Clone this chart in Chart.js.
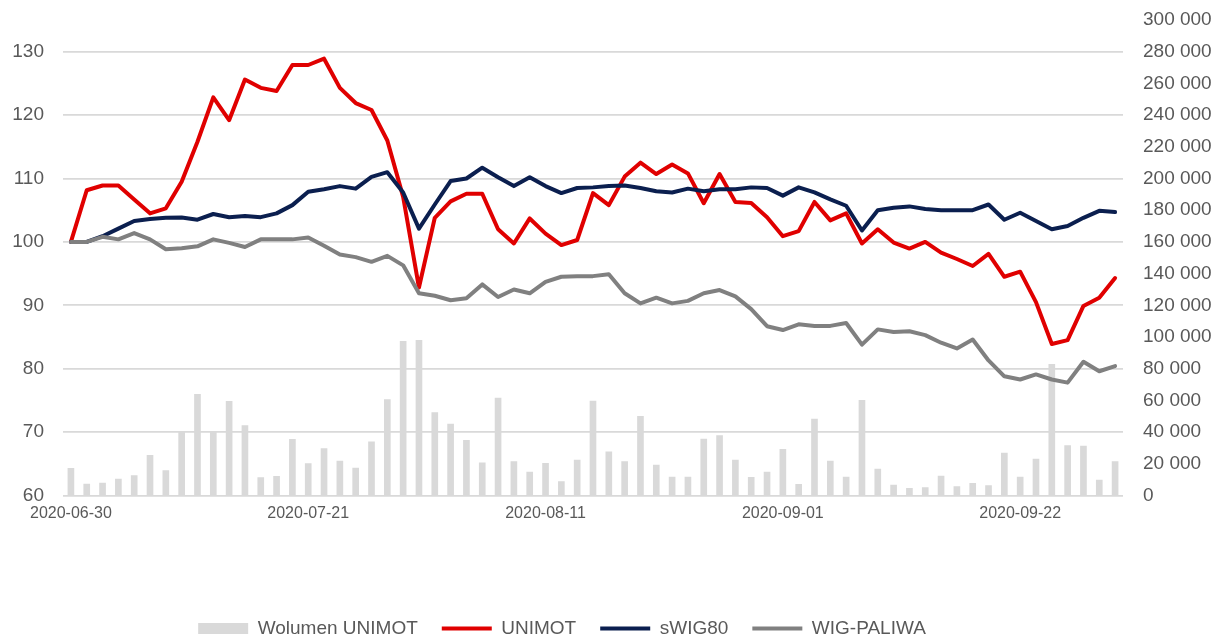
<!DOCTYPE html>
<html>
<head>
<meta charset="utf-8">
<script src="https://cdn.jsdelivr.net/npm/chart.js@4.4.1/dist/chart.umd.min.js"></script>
<style>
  html, body { margin: 0; padding: 0; background: #ffffff; overflow: hidden; }
  #wrap { position: relative; width: 1220px; height: 638px; }
</style>
</head>
<body>
<div id="wrap"><canvas id="c"></canvas></div>
<script>
const dates = [
  '2020-06-30',
  '2020-07-01','2020-07-02','2020-07-03','2020-07-06','2020-07-07','2020-07-08','2020-07-09','2020-07-10',
  '2020-07-13','2020-07-14','2020-07-15','2020-07-16','2020-07-17','2020-07-20','2020-07-21','2020-07-22',
  '2020-07-23','2020-07-24','2020-07-27','2020-07-28','2020-07-29','2020-07-30','2020-07-31',
  '2020-08-03','2020-08-04','2020-08-05','2020-08-06','2020-08-07','2020-08-10','2020-08-11','2020-08-12',
  '2020-08-13','2020-08-14','2020-08-17','2020-08-18','2020-08-19','2020-08-20','2020-08-21','2020-08-24',
  '2020-08-25','2020-08-26','2020-08-27','2020-08-28','2020-08-31',
  '2020-09-01','2020-09-02','2020-09-03','2020-09-04','2020-09-07','2020-09-08','2020-09-09','2020-09-10',
  '2020-09-11','2020-09-14','2020-09-15','2020-09-16','2020-09-17','2020-09-18','2020-09-21','2020-09-22',
  '2020-09-23','2020-09-24','2020-09-25','2020-09-28','2020-09-29','2020-09-30'
];
const shownDates = ['2020-06-30','2020-07-21','2020-08-11','2020-09-01','2020-09-22'];

const volumeUnimot = [
  17160, 7255, 7886, 10410, 12490, 25360, 15650, 40500, 63850, 40500,
  59430, 44040, 11230, 12110, 35450, 20060, 29530, 21770, 17350, 33940,
  60440, 97280, 97910, 52240, 45110, 34820, 20690, 61510, 21330, 14830,
  20310, 8710, 22400, 59620, 27630, 21330, 49960, 19240, 11670, 11670,
  35650, 37730, 22400, 11480, 14830, 29150, 7070, 48260, 21770, 11670,
  60060, 16720, 6620, 4540, 4920, 12300, 5550, 7700, 6180, 26810,
  11670, 23030, 82770, 31420, 31230, 9780, 21330
];
const unimot = [
  100, 108.15, 108.9, 108.9, 106.7, 104.5, 105.3, 109.5, 115.8, 122.8,
  119.2, 125.6, 124.3, 123.8, 127.9, 127.9, 128.9, 124.3, 121.9, 120.8,
  116.0, 107.1, 92.8, 103.8, 106.4, 107.6, 107.6, 102.0, 99.75, 103.7,
  101.3, 99.5, 100.3, 107.7, 105.8, 110.3, 112.5, 110.7, 112.2, 110.8,
  106.1, 110.7, 106.3, 106.15, 103.9, 100.9, 101.7, 106.3, 103.4, 104.5,
  99.75, 102.0, 99.9, 98.95, 100.0, 98.3, 97.3, 96.2, 98.1, 94.5,
  95.3, 90.5, 83.9, 84.5, 89.9, 91.2, 94.3
];
const swig80 = [
  100, 100, 100.9, 102.1, 103.3, 103.6, 103.8, 103.85, 103.5, 104.4,
  103.9, 104.1, 103.9, 104.5, 105.8, 107.9, 108.3, 108.8, 108.4, 110.25,
  111.0, 107.8, 102.1, 105.9, 109.6, 110.0, 111.7, 110.2, 108.8, 110.2,
  108.8, 107.7, 108.5, 108.6, 108.8, 108.9, 108.5, 108.0, 107.8, 108.4,
  108.0, 108.3, 108.3, 108.6, 108.5, 107.3, 108.6, 107.8, 106.7, 105.7,
  101.8, 105.0, 105.4, 105.6, 105.2, 105.0, 105.0, 105.0, 105.9, 103.5,
  104.6, 103.3, 102.0, 102.5, 103.8, 104.9, 104.7
];
const wigPaliwa = [
  100, 100, 100.8, 100.4, 101.4, 100.4, 98.85, 99.0, 99.3, 100.4,
  99.85, 99.2, 100.4, 100.4, 100.4, 100.7, 99.4, 98.0, 97.6, 96.85,
  97.8, 96.3, 91.9, 91.5, 90.8, 91.1, 93.3, 91.3, 92.5, 91.9,
  93.7, 94.5, 94.6, 94.6, 94.9, 91.9, 90.3, 91.2, 90.3, 90.7,
  91.9, 92.4, 91.4, 89.4, 86.7, 86.1, 87.0, 86.75, 86.75, 87.2,
  83.8, 86.2, 85.8, 85.9, 85.3, 84.1, 83.2, 84.6, 81.3, 78.8,
  78.3, 79.1, 78.3, 77.8, 81.1, 79.6, 80.4
];
const leftTicks = [60, 70, 80, 90, 100, 110, 120, 130];

const FONT = "'Liberation Sans', Arial, sans-serif";
const TXT = '#595959';

function fmtThousands(v) {
  return String(Math.round(v)).replace(/\B(?=(\d{3})+(?!\d))/g, ' ');
}

// shifts the legend block horizontally (reference legend sits left of centre)
const legendShift = {
  id: 'legendShift',
  afterLayout(chart) {
    const lg = chart.legend;
    if (lg) { lg.left -= 48; lg.right -= 48; }
  }
};

function noVPad(s) { s.paddingTop = 0; s.paddingBottom = 0; }

new Chart(document.getElementById('c'), {
  type: 'bar',
  plugins: [legendShift],
  data: {
    labels: dates,
    datasets: [
      {
        type: 'bar', label: 'Wolumen UNIMOT', data: volumeUnimot, yAxisID: 'y1',
        backgroundColor: '#d9d9d9', borderWidth: 0, barThickness: 6, order: 4, pointStyle: 'rect'
      },
      {
        type: 'line', label: 'UNIMOT', data: unimot, yAxisID: 'y',
        borderColor: '#e00000', backgroundColor: '#e00000', borderWidth: 4,
        pointRadius: 0, tension: 0, borderJoinStyle: 'round', borderCapStyle: 'round', order: 3, pointStyle: 'line'
      },
      {
        type: 'line', label: 'sWIG80', data: swig80, yAxisID: 'y',
        borderColor: '#0b1f4f', backgroundColor: '#0b1f4f', borderWidth: 4,
        pointRadius: 0, tension: 0, borderJoinStyle: 'round', borderCapStyle: 'round', order: 2, pointStyle: 'line'
      },
      {
        type: 'line', label: 'WIG-PALIWA', data: wigPaliwa, yAxisID: 'y',
        borderColor: '#808080', backgroundColor: '#808080', borderWidth: 4,
        pointRadius: 0, tension: 0, borderJoinStyle: 'round', borderCapStyle: 'round', order: 1, pointStyle: 'line'
      }
    ]
  },
  options: {
    responsive: true,
    maintainAspectRatio: false,
    animation: false,
    layout: { padding: { top: 20, left: 0, right: 0, bottom: -10 } },
    plugins: {
      tooltip: { enabled: false },
      legend: {
        position: 'bottom',
        labels: {
          usePointStyle: true,
          pointStyleWidth: 50,
          boxHeight: 11,
          padding: 24,
          color: TXT,
          font: { family: FONT, size: 19 },
          sort: (a, b) => a.datasetIndex - b.datasetIndex
        }
      }
    },
    scales: {
      x: {
        type: 'category',
        offset: true,
        grid: { display: false, drawTicks: false },
        border: { display: false },
        ticks: {
          autoSkip: false, maxRotation: 0, minRotation: 0, padding: 8,
          color: TXT, font: { family: FONT, size: 16 },
          callback: function (v, i) {
            const l = dates[i];
            return shownDates.includes(l) ? l : '';
          }
        },
        afterFit: (s) => { s.height = 99.5; }
      },
      y: {
        position: 'left',
        min: 60, max: 135,
        afterBuildTicks: (s) => { s.ticks = leftTicks.map(v => ({ value: v })); },
        grid: { color: '#d9d9d9', lineWidth: 1.8, drawTicks: false },
        border: { display: false },
        ticks: { color: TXT, font: { family: FONT, size: 19 }, padding: 19 },
        afterFit: (s) => { s.width = 63; noVPad(s); }
      },
      y1: {
        position: 'right',
        min: 0, max: 300000,
        grid: { display: false, drawTicks: false },
        border: { display: false },
        ticks: {
          stepSize: 20000, color: TXT, font: { family: FONT, size: 19 }, padding: 20,
          callback: (v) => fmtThousands(v)
        },
        afterFit: (s) => { s.width = 97; noVPad(s); }
      }
    }
  }
});
</script>
</body>
</html>
